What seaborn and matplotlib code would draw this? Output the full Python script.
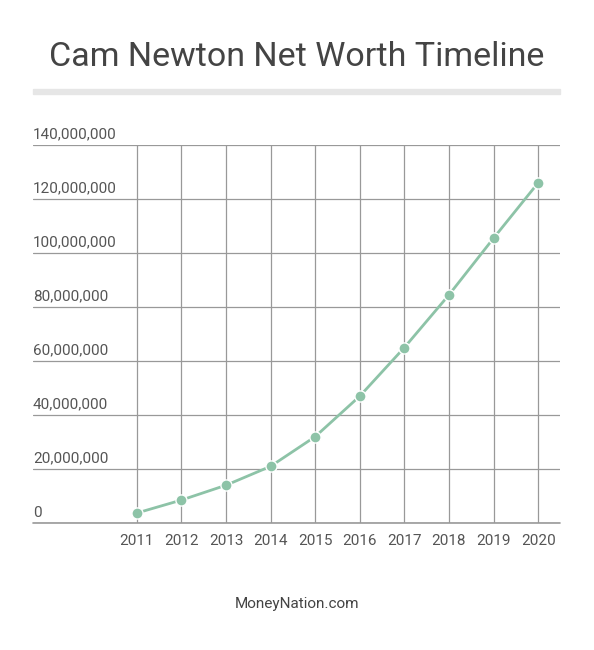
import seaborn as sns
import pandas as pd
from matplotlib import pyplot as plt
from matplotlib.patches import Rectangle

years = [2011, 2012, 2013, 2014, 2015, 2016, 2017, 2018, 2019, 2020]
net_worth = [3.7e6, 8.5e6, 14e6, 21e6, 32e6, 47e6, 65e6, 84.5e6, 105.5e6, 126e6]
y_ticks = [0, 20e6, 40e6, 60e6, 80e6, 100e6, 120e6, 140e6]

sns.set_style('white')
plt.rcParams['font.family'] = ['Roboto', 'DejaVu Sans']

df = pd.DataFrame({'year': years, 'net_worth': net_worth})
fig = plt.figure(figsize=(5.94, 6.5), dpi=100)
ax = fig.add_axes([33 / 594, 1 - 523 / 650, 527 / 594, 378 / 650])
sns.lineplot(x='year', y='net_worth', data=df, ax=ax, color='#8dc3a7', lw=2,
             marker='o', markersize=8, markeredgecolor='white', markeredgewidth=1)
ax.set_xlim(2008.67, 2020.49)
ax.set_ylim(0, 140e6)
ax.set_xticks(years)
ax.set_yticks(y_ticks)
ax.set_yticklabels([])
ax.tick_params(axis='both', length=0)
ax.tick_params(axis='x', labelsize=11, colors='#555555', pad=8)
ax.grid(True, color='#999999', lw=0.9)
ax.set_axisbelow(True)
for s in ax.spines.values():
    s.set_visible(False)
ax.axhline(0, color='#999999', lw=1.2, clip_on=False, zorder=0)
ax.set(xlabel='', ylabel='')
for v in y_ticks:
    ax.text(2008.67, v + 1.2e6, f'{int(v):,}', fontsize=11, color='#555555', va='bottom', ha='left')

fig.text(0.5, 1 - 57 / 650, 'Cam Newton Net Worth Timeline', ha='center', va='center',
         fontsize=24.5, color='#444444')
fig.patches.append(Rectangle((33 / 594, 1 - 94 / 650), 527 / 594, 5 / 650,
                             transform=fig.transFigure, color='#e6e6e6'))
fig.text(0.5, 1 - 604 / 650, 'MoneyNation.com', ha='center', va='center', fontsize=11, color='#444444')
fig.savefig('out.png', dpi=100)
